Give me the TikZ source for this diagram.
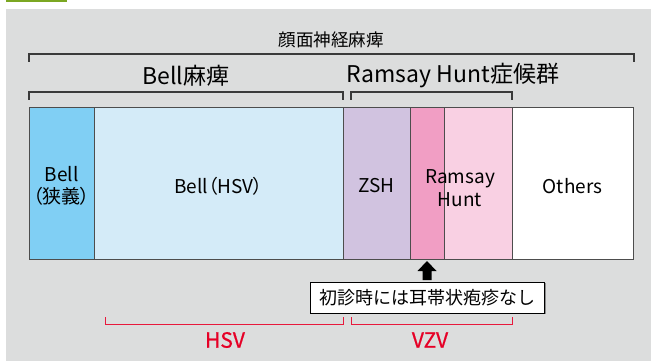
\documentclass[tikz,border=0pt]{standalone}
\usepackage{fontspec}
\setmainfont{Noto Sans CJK JP}
\newfontfamily\jpp{Noto Sans CJK JP}[RawFeature=+palt]
\newfontfamily\jpbold{Noto Sans CJK JP}[FakeBold=0.7]
\definecolor{bggray}{HTML}{DCDDDD}
\definecolor{tabgreen}{HTML}{7BA722}
\definecolor{cBellN}{HTML}{80CFF4}
\definecolor{cBellH}{HTML}{D4EBF8}
\definecolor{cZSH}{HTML}{D1C3E0}
\definecolor{cRHd}{HTML}{F19EC4}
\definecolor{cRHl}{HTML}{F9D0E3}
\definecolor{segline}{HTML}{4D4D4D}
\definecolor{brk}{HTML}{3A3A3A}
\definecolor{jred}{HTML}{E60026}
\tikzset{
  seg/.style={draw=segline, line width=1pt, inner sep=0pt, outer sep=0pt,
    minimum height=152pt},
  segtext/.style={align=center, font=\fontsize{19}{22.5}\selectfont},
  lvlone/.style={font=\fontsize{17.5}{20}\selectfont},
  lvltwo/.style={font=\fontsize{23}{26}\selectfont},
  bracket/.style={draw=brk, line width=1.2pt},
  redbracket/.style={draw=jred!90, line width=1pt},
  redlabel/.style={text=jred, font=\jpbold\fontsize{21}{24}\selectfont},
  notebox/.style={draw=black, fill=white, line width=1pt, inner sep=0pt,
    minimum width=234pt, minimum height=31pt, font=\fontsize{18}{21}\selectfont}
}
\begin{document}
\begin{tikzpicture}[x=1pt, y=-1pt, every node/.style={inner sep=0pt, outer sep=0pt}]
\useasboundingbox (0,0) rectangle (651,361);
\fill[bggray] (6,9) rectangle (651,361);
\fill[tabgreen] (6,0) rectangle (67,2);

% titles
\node[lvlone] (title) at (331,40) {顔面神経麻痺};
\node[lvltwo] (bellT) at (186,76) {Bell麻痺};
\node[lvltwo] (rhT) at (453,76) {Ramsay Hunt症候群};

% brackets
\coordinate (tA) at (29,62); \coordinate (tB) at (634,62);
\draw[bracket] (tA) -- ++(0,-8) -| (tB);
\coordinate (bA) at (29,100); \coordinate (bB) at (343,100);
\draw[bracket] (bA) -- ++(0,-8) -| (bB);
\coordinate (rA) at (351,100); \coordinate (rB) at (512,100);
\draw[bracket] (rA) -- ++(0,-8) -| (rB);

% bar segments
\node[seg, fill=cBellN, minimum width=65pt] (bellN) at (61.5,183) {};
\node[seg, fill=cBellH, minimum width=249pt] (bellH) at (218.5,183) {};
\node[seg, fill=cZSH, minimum width=67pt] (zsh) at (376.5,183) {};
\node[seg, fill=cRHd, minimum width=34pt] (rhd) at (427,183) {};
\node[seg, fill=cRHl, minimum width=68pt] (rhl) at (478,183) {};
\node[seg, fill=white, minimum width=121pt] (oth) at (572.5,183) {};

\node[segtext, font=\jpp\fontsize{19}{22.5}\selectfont] (bellNt) at (61.5,186) {Bell\\（狭義）};
\node[segtext, font=\jpp\fontsize{19}{22.5}\selectfont] (bellHt) at (218.5,186) {Bell（HSV）};
\node[segtext] (zsht) at (376.5,186) {ZSH};
\node[segtext] (otht) at (572.5,186) {Others};
\node[segtext] (rhtext) at (460,188) {Ramsay\\Hunt};

% note and arrow
\fill[black!45] (311,283) rectangle (545.8,313.8);
\node[notebox] (note) at (427,297.5) {初診時には耳帯状疱疹なし};
\coordinate (tip) at ([yshift=-2pt]rhd.south);
\fill[black] (tip) -- ++(9.5,10) -- ++(-5,0) -- ++(0,9) -- ++(-9,0) -- ++(0,-9) -- ++(-5,0) -- cycle;

% red brackets
\coordinate (hA) at (105,317); \coordinate (hB) at (343,317);
\draw[redbracket] (hA) -- ++(0,7) -| (hB);
\coordinate (vA) at (351,317); \coordinate (vB) at (512,317);
\draw[redbracket] (vA) -- ++(0,7) -| (vB);
\node[redlabel] (hsv) at (225,340) {HSV};
\node[redlabel] (vzv) at (430,340) {VZV};
\end{tikzpicture}
\end{document}
